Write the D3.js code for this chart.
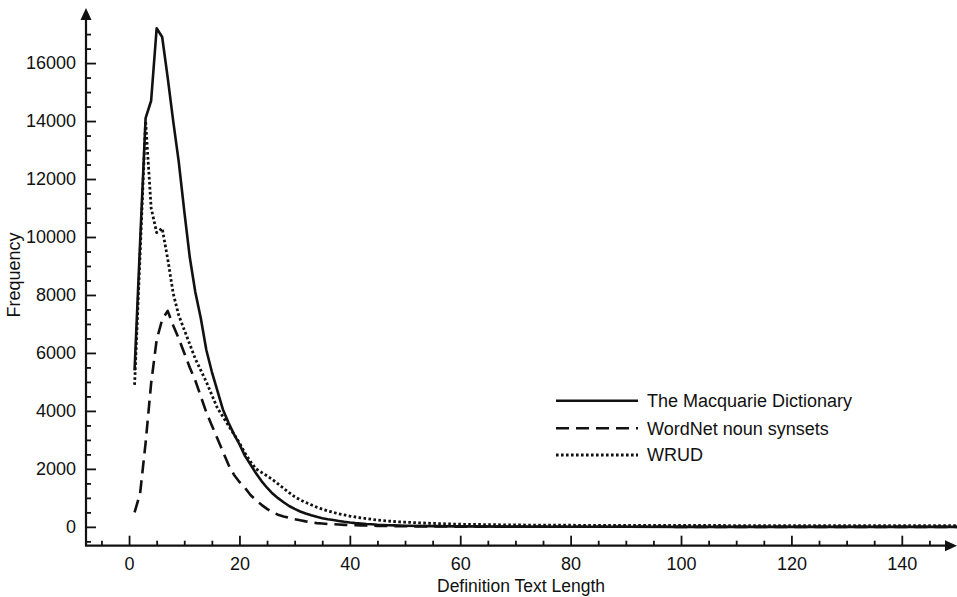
<!DOCTYPE html>
<html>
<head>
<meta charset="utf-8">
<script src="https://cdn.jsdelivr.net/npm/d3@7/dist/d3.min.js"></script>
<style>
  html, body { margin: 0; padding: 0; background: #fff; }
  svg { display: block; }
  text { font-family: "Liberation Sans", Arial, Helvetica, sans-serif; fill: #111; }
</style>
</head>
<body>
<svg id="chart" width="957" height="597"></svg>
<script>
// ---- data ----
const lengths = [1,2,3,4,5,6,7,8,9,10,11,12,13,14,15,16,17,18,19,20,21,22,23,24,25,26,27,28,29,30,
  31,32,33,34,35,36,37,38,39,40,41,42,43,44,45,46,47,48,49,50,55,60,70,80,90,100,110,120,130,140,150];

const macquarie = [5400,9800,14100,14700,17200,16900,15500,14000,12600,10900,9300,8100,7200,6100,5350,4700,4050,3600,3200,2850,
  2450,2150,1850,1580,1350,1150,990,850,720,620,530,460,400,345,300,265,235,205,175,150,
  130,115,100,90,75,65,55,50,45,40,25,15,8,4,2,1,0,0,0,0,0];

const wordnet = [500,1150,2900,4950,6450,7150,7450,6950,6500,6000,5500,5050,4500,3950,3500,3050,2600,2150,1800,1550,
  1350,1100,920,760,620,500,420,360,310,260,225,190,160,130,115,100,90,80,70,60,
  55,50,45,40,35,30,28,25,22,20,12,8,5,3,2,1,0,0,0,0,0];

const wrud = [4900,9400,14000,11000,10150,10300,9250,8050,7300,6800,6300,5800,5400,5000,4550,4100,3800,3500,3200,2900,
  2550,2250,2000,1880,1760,1630,1480,1330,1180,1040,930,840,760,680,610,550,500,450,410,370,
  340,310,285,260,235,215,200,185,170,160,120,90,65,55,50,50,45,45,40,40,40];

const seriesNames = ["The Macquarie Dictionary", "WordNet noun synsets", "WRUD"];
const xMajorTicks = [0,20,40,60,80,100,120,140];
const yMajorTicks = [0,2000,4000,6000,8000,10000,12000,14000,16000];
const xLabel = "Definition Text Length";
const yLabel = "Frequency";

// ---- chart ----
const svg = d3.select("#chart");
const ink = "#111";
const font = '"Liberation Sans", Arial, Helvetica, sans-serif';

const x = d3.scaleLinear().domain([-7.8, 150]).range([86, 957]);
const y = d3.scaleLinear().domain([-650, 17900]).range([545.7, 8]);

const x0 = x.range()[0], y0 = y.range()[0];

const xMinor = d3.range(-5, 150, 5).filter(v => v % 20 !== 0);
const yMinor = d3.range(-500, 18000, 500).filter(v => v % 2000 !== 0 && y(v) > 20);

// y axis
const gy = svg.append("g").attr("transform", `translate(${x0},0)`);
gy.call(d3.axisLeft(y).tickValues(yMajorTicks).tickSize(-10).tickPadding(10).tickFormat(d3.format("d")));
gy.append("g").call(d3.axisLeft(y).tickValues(yMinor).tickSize(-5).tickFormat(""));
gy.selectAll(".domain").remove();

// x axis
const gx = svg.append("g").attr("transform", `translate(0,${y0})`);
gx.call(d3.axisBottom(x).tickValues(xMajorTicks).tickSize(-10).tickPadding(12).tickFormat(d3.format("d")));
gx.append("g").call(d3.axisBottom(x).tickValues(xMinor).tickSize(-5).tickFormat(""));
gx.selectAll(".domain").remove();

svg.selectAll(".tick line").attr("stroke", ink).attr("stroke-width", 1.8);
svg.selectAll(".tick text").attr("font-size", 18).attr("fill", ink).style("font-family", font);

// axis lines with arrows
svg.append("line").attr("x1", x0).attr("y1", y0).attr("x2", x0).attr("y2", 18)
   .attr("stroke", ink).attr("stroke-width", 2.2);
svg.append("line").attr("x1", x0 - 1).attr("y1", y0).attr("x2", 948).attr("y2", y0)
   .attr("stroke", ink).attr("stroke-width", 2.2);
svg.append("path").attr("d", `M${x0},8 L${x0 - 5.5},20 L${x0 + 5.5},20 Z`).attr("fill", ink);
svg.append("path").attr("d", `M957,${y0} L945,${y0 - 5.5} L945,${y0 + 5.5} Z`).attr("fill", ink);

// axis titles
svg.append("text").attr("x", 521).attr("y", 591.5)
   .attr("text-anchor", "middle").attr("font-size", 17.5).text(xLabel);
svg.append("text").attr("transform", "translate(20,275) rotate(-90)")
   .attr("text-anchor", "middle").attr("font-size", 18).text(yLabel);

// lines
const styles = [
  { dash: null, width: 2.6 },
  { dash: "13,7", width: 2.6 },
  { dash: "2.6,2.4", width: 2.8 }
];
const allSeries = [macquarie, wordnet, wrud];
const line = d3.line().x(d => x(d[0])).y(d => y(d[1]));

const order = [2, 1, 0];
order.forEach(i => {
  const pts = lengths.map((l, k) => [l, allSeries[i][k]]);
  svg.append("path").datum(pts).attr("d", line)
     .attr("fill", "none").attr("stroke", ink)
     .attr("stroke-width", styles[i].width)
     .attr("stroke-dasharray", styles[i].dash)
     .attr("stroke-linejoin", "round");
});

// legend
const legendY = [400.7, 428.3, 455];
seriesNames.forEach((name, i) => {
  svg.append("line").attr("x1", 556).attr("x2", 638).attr("y1", legendY[i]).attr("y2", legendY[i])
     .attr("stroke", ink).attr("stroke-width", styles[i].width)
     .attr("stroke-dasharray", styles[i].dash);
  svg.append("text").attr("x", 647).attr("y", legendY[i]).attr("dy", "0.35em")
     .attr("font-size", 18).text(name);
});
</script>
</body>
</html>
